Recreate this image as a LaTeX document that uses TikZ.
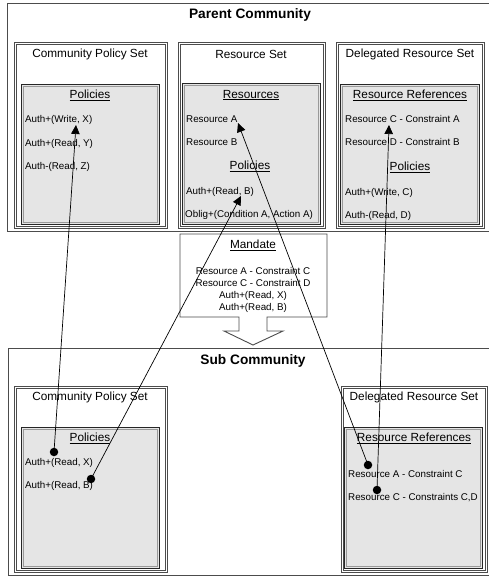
\documentclass[tikz,border=0pt]{standalone}
\usepackage{fontspec}
\setmainfont{Liberation Sans}
\usetikzlibrary{arrows.meta}
\definecolor{boxgray}{gray}{0.9}
\definecolor{linegray}{gray}{0.3}

\begin{document}
\begin{tikzpicture}[x=1pt, y=-1pt,
  community/.style={draw=linegray, line width=0.9pt},
  setline/.style={draw=linegray, line width=0.8pt},
  polbox/.style={draw=black!85, fill=boxgray, line width=0.8pt},
  polline/.style={draw=gray!80, line width=0.7pt},
  title/.style={font=\fontsize{13.7}{15}\selectfont\bfseries},
  head/.style={font=\fontsize{11.8}{13}\selectfont, inner sep=0pt},
  item/.style={font=\fontsize{9.8}{11.7}\selectfont, inner sep=0pt, anchor=west},
  ref/.style={fill=black, circle, inner sep=0pt, minimum size=8.5pt},
  link/.style={-{Triangle[length=9pt,width=8.5pt]}, line width=0.7pt}]
  \useasboundingbox (0,0) rectangle (489,576);

  \draw[community] (7,3) rectangle (495,231);
  \node[title] (parent) at (250,15) {Parent Community};

  \draw[setline] (14,42) rectangle (167,228) (16,44) rectangle (165,226);
  \draw[setline] (178,42) rectangle (325,228) (180,44) rectangle (323,226);
  \draw[setline] (336,42) rectangle (484,228) (338,44) rectangle (482,226);
  \node[head] (cpsA) at (90,54) {Community Policy Set};
  \node[head] (rsA) at (251,54) {Resource Set};
  \node[head] (drsA) at (410,54) {Delegated Resource Set};

  \draw[polbox] (21,84) rectangle (159,224);
  \draw[polline] (23,86) rectangle (157,222);
  \draw[polbox] (182,83) rectangle (320,224);
  \draw[polline] (184,85) rectangle (318,222);
  \draw[polbox] (340,84) rectangle (479,224);
  \draw[polline] (342,86) rectangle (477,222);

  \node[head] (polA) at (90,95) {\underline{Policies}};
  \node[item] (writeX) at (25,120) {Auth+(Write, X)};
  \node[item] (readY) at (25,144) {Auth+(Read, Y)};
  \node[item] (readZ) at (25,167) {Auth-(Read, Z)};

  \node[head] (res) at (251,95) {\underline{Resources}};
  \node[item] (resA) at (186,119) {Resource A};
  \node[item] (resB) at (186,142) {Resource B};
  \node[head] (polB) at (250,166) {\underline{Policies}};
  \node[item] (readB) at (186,192) {Auth+(Read, B)};
  \node[item] (oblig) at (185,215) {Oblig+(Condition A, Action A)};

  \node[head] (refsA) at (410,95) {\underline{Resource References}};
  \node[item] (resCA) at (345,119) {Resource C - Constraint A};
  \node[item] (resDB) at (345,142) {Resource D - Constraint B};
  \node[head] (polC) at (410,167) {\underline{Policies}};
  \node[item] (writeC) at (345,193) {Auth+(Write, C)};
  \node[item] (readD) at (345,216) {Auth-(Read, D)};

  \draw[draw=linegray, fill=white, line width=0.9pt] (180,234) -- (327,234) -- (327,317)
    -- (267,317) -- (267,331) -- (283,331) -- (253,345) -- (224,331) -- (239,331)
    -- (239,317) -- (180,317) -- cycle;
  \node[head] (mandate) at (253,245) {\underline{Mandate}};
  \node[font=\fontsize{9.8}{11.7}\selectfont, align=center, inner sep=0pt] (terms) at (253,290)
    {Resource A - Constraint C\\Resource C - Constraint D\\Auth+(Read, X)\\Auth+(Read, B)};

  \draw[community] (8,348) rectangle (495,575);
  \node[title] (sub) at (253,361) {Sub Community};

  \draw[setline] (14,386) rectangle (167,572) (16,388) rectangle (165,570);
  \draw[setline] (341,386) rectangle (487.5,572) (343,388) rectangle (485.5,570);
  \node[head] (cpsB) at (90,397) {Community Policy Set};
  \node[head] (drsB) at (414,397) {Delegated Resource Set};

  \draw[polbox] (21,427) rectangle (159,568);
  \draw[polline] (23,429) rectangle (157,566);
  \draw[polbox] (344,427) rectangle (482,568);
  \draw[polline] (346,429) rectangle (480,566);

  \node[head] (polD) at (90,438) {\underline{Policies}};
  \node[item] (subReadX) at (25,463) {Auth+(Read, X)};
  \node[item] (subReadB) at (25,486) {Auth+(Read, B)};

  \node[head] (refsB) at (414,438) {\underline{Resource References}};
  \node[item] (subResAC) at (348,474) {Resource A - Constraint C};
  \node[item] (subResCCD) at (348,498) {Resource C - Constraints C,D};

  \node[ref] (dotX) at (54,452) {};
  \node[ref] (dotB) at (91,479) {};
  \node[ref] (dotA) at (368,465) {};
  \node[ref] (dotC) at (377,490) {};

  \coordinate (tipX) at (76,125);
  \coordinate (tipB) at (241,196);
  \coordinate (tipA) at (238,123);
  \coordinate (tipC) at (389,125);

  \draw[link] (dotX.center) -- (tipX);
  \draw[link] (dotB.center) -- (tipB);
  \draw[link] (dotA.center) -- (tipA);
  \draw[link] (dotC.center) -- (tipC);
\end{tikzpicture}
\end{document}
